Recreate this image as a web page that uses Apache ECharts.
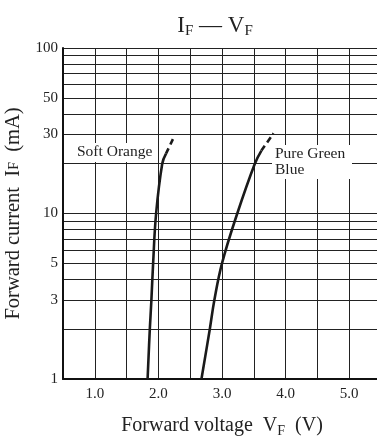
<!DOCTYPE html>
<html>
<head>
<meta charset="utf-8">
<script src="https://cdn.jsdelivr.net/npm/echarts@6/dist/echarts.min.js"></script>
<style>
  html, body { margin: 0; padding: 0; background: #fff; }
  #main { width: 377px; height: 436px; }
</style>
</head>
<body>
<div id="main"></div>
<script>
// curves: [VF (V), IF (mA)]
const orangeSolid = [[1.83, 1], [1.865, 2], [1.89, 3], [1.917, 5], [1.964, 10], [2.06, 20], [2.12, 23]];
const orangeDash = [[2.12, 23], [2.235, 28.5]];
const greenSolid = [[2.677, 1], [2.808, 2], [2.88, 3], [3.0, 5], [3.24, 10], [3.516, 20], [3.62, 24]];
const greenDash = [[3.62, 24], [3.81, 30.5]];

// y grid lines and labels
const yGridValues = [1, 2, 3, 4, 5, 6, 7, 8, 9, 10, 20, 30, 40, 50, 60, 70, 80, 90, 100];
const yLabelValues = [1, 3, 5, 10, 30, 50, 100];

const FONT = 'Liberation Serif';
const sub = { fontSize: 14, fontFamily: FONT, color: '#222', padding: [10, 0, 0, 0] };

let chart = echarts.init(document.getElementById('main'));

function curve(data, dashed) {
    return {
        type: 'line',
        data: data,
        smooth: 0.4,
        showSymbol: false,
        silent: true,
        lineStyle: { color: '#1a1a1a', width: 2.6, type: dashed ? [6, 4] : 'solid' },
        z: 5
    };
}

let option = {
    animation: false,
    title: {
        text: 'I{s|F} — V{s|F}',
        left: 210,
        textAlign: 'center',
        top: 8,
        textStyle: {
            fontFamily: FONT, fontSize: 23, fontWeight: 'normal', color: '#222',
            rich: { s: Object.assign({}, sub, { fontSize: 15, padding: [11, 0, 0, 0] }) }
        }
    },
    grid: { left: 63, right: -4, top: 48, bottom: 57, outerBoundsMode: 'none', containLabel: false },
    xAxis: {
        type: 'value',
        min: 0.5, max: 5.5, interval: 0.5,
        name: 'Forward voltage  V{s|F}  (V)',
        nameLocation: 'middle',
        nameGap: 35,
        nameTextStyle: { fontFamily: FONT, fontSize: 20, color: '#222', rich: { s: sub } },
        axisLine: { lineStyle: { color: '#111', width: 2 } },
        axisTick: { show: false },
        axisLabel: {
            fontFamily: FONT, fontSize: 15, color: '#222', margin: 8,
            formatter: v => Math.abs(v - Math.round(v)) < 1e-6 && v >= 1 ? v.toFixed(1) : ''
        },
        splitLine: { show: true, lineStyle: { color: '#222', width: 1 } }
    },
    yAxis: {
        type: 'log',
        logBase: 10,
        min: 1, max: 100,
        name: 'Forward current  I{s|F}  (mA)',
        nameLocation: 'middle',
        nameGap: 31,
        nameTextStyle: { fontFamily: FONT, fontSize: 20.5, color: '#222', rich: { s: Object.assign({}, sub, { padding: [0, 0, 0, 0] }) } },
        axisLine: { lineStyle: { color: '#111', width: 2 } },
        axisTick: { show: false, customValues: yGridValues },
        axisLabel: { fontFamily: FONT, fontSize: 15, color: '#222', margin: 5, customValues: yLabelValues },
        splitLine: { show: true, lineStyle: { color: '#222', width: 1 } }
    },
    graphic: [
        { type: 'rect', shape: { x: 75, y: 143, width: 82, height: 19 }, style: { fill: '#fff' }, z: 3 },
        { type: 'text', x: 77, y: 144, style: { text: 'Soft Orange', font: '15.5px "Liberation Serif"', fill: '#222' }, z: 4 },
        { type: 'rect', shape: { x: 272, y: 145, width: 80, height: 34 }, style: { fill: '#fff' }, z: 3 },
        { type: 'text', x: 275, y: 146, style: { text: 'Pure Green\nBlue', font: '15.5px "Liberation Serif"', fill: '#222', lineHeight: 16 }, z: 4 }
    ],
    series: [
        curve(orangeSolid, false),
        curve(orangeDash, true),
        curve(greenSolid, false),
        curve(greenDash, true)
    ]
};

chart.setOption(option);
</script>
</body>
</html>
